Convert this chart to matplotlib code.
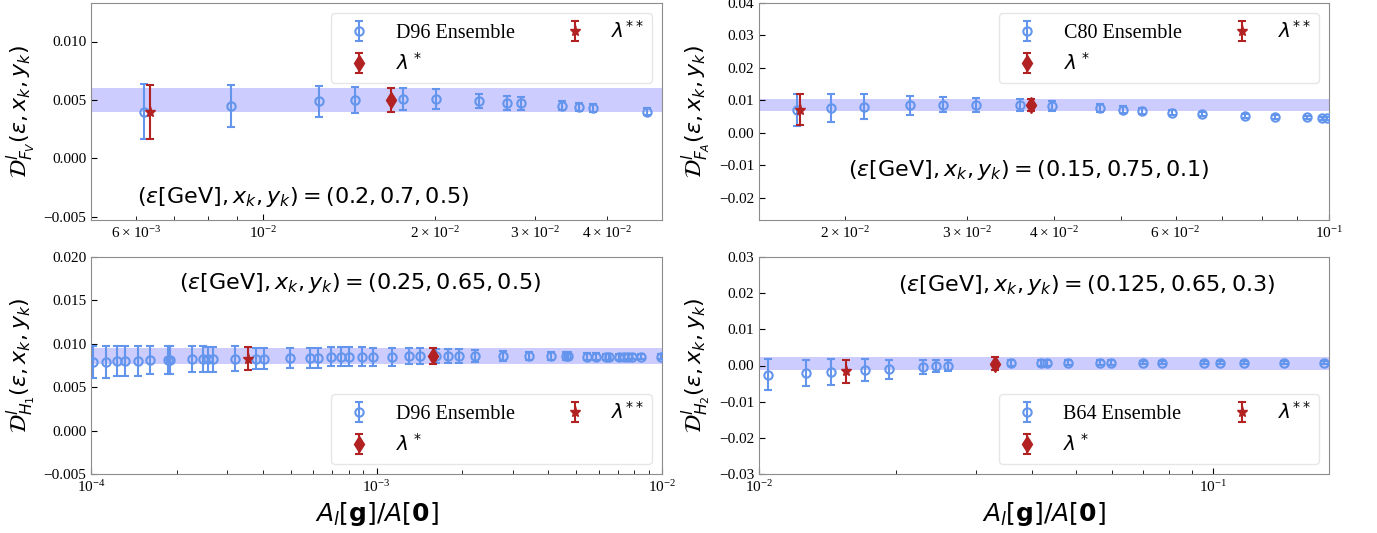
import matplotlib
matplotlib.use("Agg")
import matplotlib.pyplot as plt

plt.rcParams["font.family"] = ["Liberation Serif", "DejaVu Serif"]
plt.rcParams["mathtext.fontset"] = "dejavusans"
plt.rcParams["axes.unicode_minus"] = True

BLUE = "#6495ED"
RED = "#B22222"
BAND = "blue"

# ---- F_V, D96 ensemble ----
fv_x = [6.20e-3, 8.81e-3, 1.253e-2, 1.45e-2, 1.758e-2, 2.01e-2, 2.39e-2, 2.676e-2,
        2.835e-2, 3.34e-2, 3.575e-2, 3.78e-2, 4.71e-2]
fv_y = [0.00397, 0.00449, 0.00486, 0.00497, 0.00506, 0.00506, 0.00491, 0.00474,
        0.00471, 0.00449, 0.00440, 0.00431, 0.00400]
fv_err = [0.00236, 0.00180, 0.00129, 0.00113, 0.00096, 0.00084, 0.00060, 0.00060,
          0.00055, 0.00040, 0.00037, 0.00035, 0.00030]
fv_star = (6.34e-3, 0.00397, 0.00233)
fv_diam = (1.675e-2, 0.00500, 0.00100)

# ---- F_A, C80 ensemble ----
fa_x = [1.705e-2, 1.904e-2, 2.124e-2, 2.48e-2, 2.765e-2, 3.09e-2, 3.58e-2, 3.975e-2,
        4.67e-2, 5.03e-2, 5.37e-2, 5.93e-2, 6.56e-2, 7.56e-2, 8.35e-2, 9.29e-2,
        9.76e-2, 9.92e-2]
fa_y = [0.00694, 0.00756, 0.00808, 0.00850, 0.00870, 0.00870, 0.00850, 0.00830,
        0.00756, 0.00715, 0.00674, 0.00622, 0.00580, 0.00528, 0.00497, 0.00477,
        0.00456, 0.00456]
fa_err = [0.0049, 0.0043, 0.0038, 0.0030, 0.0024, 0.0021, 0.0019, 0.0015, 0.0012,
          0.0010, 0.0009, 0.0008, 0.0007, 0.0006, 0.0006, 0.0005, 0.0005, 0.0005]
fa_star = (1.72e-2, 0.0071, 0.0048)
fa_diam = (3.71e-2, 0.0085, 0.0019)

# ---- H_1, D96 ensemble ----
h1_x = [1.016e-4, 1.127e-4, 1.238e-4, 1.315e-4, 1.463e-4, 1.612e-4, 1.859e-4, 1.892e-4,
        2.263e-4, 2.465e-4, 2.565e-4, 2.675e-4, 3.2e-4, 3.769e-4, 4.029e-4, 4.985e-4,
        5.854e-4, 6.218e-4, 6.918e-4, 7.524e-4, 7.998e-4, 8.867e-4, 9.714e-4, 1.134e-3,
        1.299e-3, 1.423e-3, 1.622e-3, 1.777e-3, 1.941e-3, 2.217e-3, 2.776e-3, 3.432e-3,
        4.082e-3, 4.607e-3, 4.677e-3, 5.479e-3, 5.871e-3, 6.375e-3, 6.531e-3, 7.047e-3,
        7.373e-3, 7.6e-3, 7.836e-3, 8.455e-3, 9.895e-3]
h1_y = [0.0079, 0.0079, 0.0080, 0.0080, 0.0080, 0.0081, 0.0081, 0.0081, 0.0082, 0.0082,
        0.0082, 0.0082, 0.0083, 0.0083, 0.0083, 0.0084, 0.0084, 0.0084, 0.0085, 0.0085,
        0.0085, 0.0085, 0.0085, 0.0085, 0.0086, 0.0086, 0.0086, 0.0086, 0.0086, 0.0086,
        0.0086, 0.0086, 0.0086, 0.0086, 0.0086, 0.0085, 0.0085, 0.0085, 0.0085, 0.0085,
        0.0085, 0.0085, 0.0085, 0.0085, 0.0085]
h1_err = [0.0018, 0.0018, 0.0017, 0.0017, 0.0017, 0.0016, 0.0016, 0.0016, 0.0015, 0.0015,
          0.0014, 0.0014, 0.0014, 0.00125, 0.00125, 0.00115, 0.00115, 0.00115, 0.0011,
          0.0011, 0.0011, 0.0011, 0.00105, 0.0010, 0.00095, 0.0009, 0.0008, 0.0008, 0.0008,
          0.0007, 0.0006, 0.0005, 0.0005, 0.00045, 0.00045, 0.0004, 0.0004, 0.00035,
          0.00035, 0.00035, 0.00035, 0.0003, 0.0003, 0.0003, 0.0003]
h1_star = (3.548e-4, 0.0083, 0.0013)
h1_diam = (1.583e-3, 0.0086, 0.0009)

# ---- H_2, B64 ensemble ----
h2_x = [0.01046, 0.01268, 0.01441, 0.0171, 0.01929, 0.02293, 0.0245, 0.02612, 0.03597,
        0.04175, 0.04305, 0.04803, 0.05631, 0.05969, 0.06996, 0.07723, 0.09537, 0.1038,
        0.1168, 0.1436, 0.1757]
h2_y = [-0.0026, -0.0021, -0.0018, -0.0012, -0.0010, -0.0004, -0.0002, 0.0000, 0.0006,
        0.0007, 0.0007, 0.0008, 0.0008, 0.0008, 0.0008, 0.0008, 0.0008, 0.0008, 0.0008,
        0.0008, 0.0008]
h2_err = [0.0043, 0.0037, 0.0035, 0.0030, 0.0026, 0.0020, 0.0016, 0.0015, 0.0008, 0.0007,
          0.0007, 0.0006, 0.0006, 0.0006, 0.0005, 0.0005, 0.0005, 0.0005, 0.0005, 0.0005,
          0.0005]
h2_star = (0.01552, -0.0016, 0.0032)
h2_diam = (0.03313, 0.0005, 0.0018)

panels = [
    dict(x=fv_x, y=fv_y, err=fv_err, star=fv_star, diam=fv_diam, ens="D96 Ensemble",
         sub="F_V", xlim=(5e-3, 5e-2), ylim=(-0.0053, 0.0133), legloc="upper right",
         note="(0.2, 0.7, 0.5)", note_xy=(0.08, 0.105), note_ha="left",
         rect=[91 / 1377, 313 / 533, 571 / 1377, 217 / 533]),
    dict(x=fa_x, y=fa_y, err=fa_err, star=fa_star, diam=fa_diam, ens="C80 Ensemble",
         sub="F_A", xlim=(0.015, 0.1), ylim=(-0.0268, 0.04), legloc="upper right",
         note="(0.15, 0.75, 0.1)", note_xy=(0.473, 0.23), note_ha="center",
         rect=[759 / 1377, 313 / 533, 570 / 1377, 217 / 533]),
    dict(x=h1_x, y=h1_y, err=h1_err, star=h1_star, diam=h1_diam, ens="D96 Ensemble",
         sub="H_1", xlim=(1e-4, 1e-2), ylim=(-0.005, 0.020), legloc="lower right",
         note="(0.25, 0.65, 0.5)", note_xy=(0.472, 0.88), note_ha="center",
         rect=[91 / 1377, 59 / 533, 571 / 1377, 217 / 533]),
    dict(x=h2_x, y=h2_y, err=h2_err, star=h2_star, diam=h2_diam, ens="B64 Ensemble",
         sub="H_2", xlim=(0.01, 0.18), ylim=(-0.03, 0.03), legloc="lower right",
         note="(0.125, 0.65, 0.3)", note_xy=(0.575, 0.871), note_ha="center",
         rect=[759 / 1377, 59 / 533, 570 / 1377, 217 / 533]),
]

fig = plt.figure(figsize=(13.77, 5.33), dpi=100)

for i, p in enumerate(panels):
    ax = fig.add_axes(p["rect"])
    ax.set_xscale("log")

    # band = lambda* result +- its error
    dv, de = p["diam"][1], p["diam"][2]
    ax.axhspan(dv - de, dv + de, color=BAND, alpha=0.2, lw=0, zorder=1)

    h_ens = ax.errorbar(p["x"], p["y"], yerr=p["err"], fmt="o", mfc="none", mec=BLUE,
                        color=BLUE, ms=6, mew=1.5, elinewidth=1.5, capsize=3,
                        capthick=1.5, zorder=3, label=p["ens"])
    h_d = ax.errorbar([p["diam"][0]], [dv], yerr=[de], fmt="d", color=RED, ms=8,
                      elinewidth=1.5, capsize=3, capthick=1.5, zorder=4,
                      label=r"$\lambda^*$")
    h_s = ax.errorbar([p["star"][0]], [p["star"][1]], yerr=[p["star"][2]], fmt="*",
                      color=RED, ms=8, elinewidth=1.5, capsize=3, capthick=1.5,
                      zorder=4, label=r"$\lambda^{**}$")

    ax.set_xlim(*p["xlim"])
    ax.set_ylim(*p["ylim"])

    for side in ax.spines.values():
        side.set_color("#8c8c8c")
    ax.tick_params(which="both", direction="in", labelsize=11, color="black")
    ax.tick_params(which="major", length=4)
    ax.tick_params(which="minor", length=3)

    ax.set_ylabel(r"$\mathcal{D}^{l}_{%s}(\varepsilon, x_k, y_k)$" % p["sub"], fontsize=16)
    if i >= 2:
        ax.set_xlabel(r"$A_l[\mathbf{g}]/A[\mathbf{0}]$", fontsize=18)

    ax.text(p["note_xy"][0], p["note_xy"][1],
            r"$(\varepsilon[\mathrm{GeV}], x_k, y_k) = %s$" % p["note"],
            transform=ax.transAxes, fontsize=16, ha=p["note_ha"], va="center")

    ax.legend(handles=[h_ens, h_d, h_s], loc=p["legloc"], ncol=2, fontsize=14.5,
              framealpha=0.8, edgecolor="#e0e0e0", handletextpad=0.8,
              columnspacing=2.0)

fig.savefig("out.png", dpi=100)
